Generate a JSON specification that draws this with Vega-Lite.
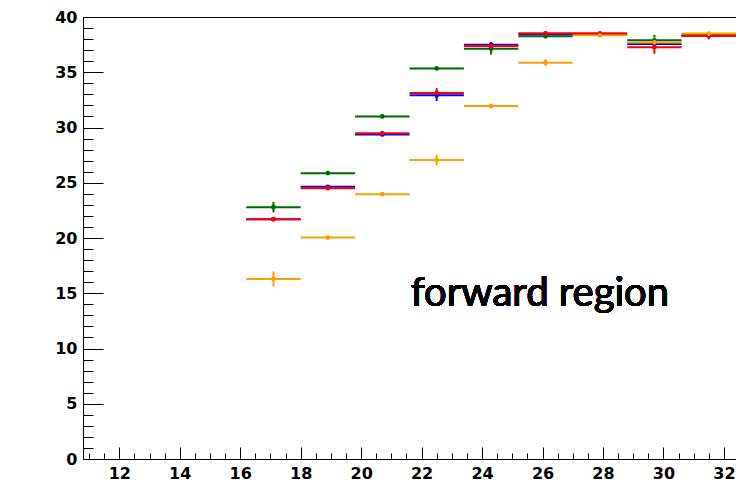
{
  "$schema": "https://vega.github.io/schema/vega-lite/v6.json",
  "width": 653,
  "height": 442,
  "autosize": {"type": "none"},
  "padding": {"left": 83, "top": 17, "right": 0, "bottom": 23},
  "background": "white",
  "config": {
    "view": {"stroke": "black", "strokeWidth": 1},
    "axis": {"grid": false, "domainColor": "black", "tickColor": "black", "labelColor": "black", "labelFont": "DejaVu Sans", "labelFontWeight": "bold", "labelFontSize": 16, "title": null}
  },
  "data": {
    "values": [
      {"s": "blue", "lo": 16.2, "hi": 18.0, "xc": 17.1, "y": 21.7, "ylo": 21.6, "yhi": 21.8},
      {"s": "blue", "lo": 18.0, "hi": 19.8, "xc": 18.9, "y": 24.64, "ylo": 24.5, "yhi": 24.78},
      {"s": "blue", "lo": 19.8, "hi": 21.6, "xc": 20.7, "y": 29.37, "ylo": 29.22, "yhi": 29.52},
      {"s": "blue", "lo": 21.6, "hi": 23.4, "xc": 22.5, "y": 32.91, "ylo": 32.4, "yhi": 33.4},
      {"s": "blue", "lo": 23.4, "hi": 25.2, "xc": 24.3, "y": 37.5, "ylo": 37.3, "yhi": 37.7},
      {"s": "blue", "lo": 25.2, "hi": 27.0, "xc": 26.1, "y": 38.43, "ylo": 38.3, "yhi": 38.56},
      {"s": "blue", "lo": 27.0, "hi": 28.8, "xc": 27.9, "y": 38.45, "ylo": 38.3, "yhi": 38.6},
      {"s": "blue", "lo": 28.8, "hi": 30.6, "xc": 29.7, "y": 37.56, "ylo": 37.3, "yhi": 37.8},
      {"s": "blue", "lo": 30.6, "hi": 32.4, "xc": 31.5, "y": 38.3, "ylo": 38.15, "yhi": 38.45},
      {"s": "green", "lo": 16.2, "hi": 18.0, "xc": 17.1, "y": 22.79, "ylo": 22.31, "yhi": 23.27},
      {"s": "green", "lo": 18.0, "hi": 19.8, "xc": 18.9, "y": 25.87, "ylo": 25.75, "yhi": 25.99},
      {"s": "green", "lo": 19.8, "hi": 21.6, "xc": 20.7, "y": 31.0, "ylo": 30.88, "yhi": 31.12},
      {"s": "green", "lo": 21.6, "hi": 23.4, "xc": 22.5, "y": 35.35, "ylo": 35.23, "yhi": 35.47},
      {"s": "green", "lo": 23.4, "hi": 25.2, "xc": 24.3, "y": 37.13, "ylo": 36.6, "yhi": 37.66},
      {"s": "green", "lo": 25.2, "hi": 27.0, "xc": 26.1, "y": 38.25, "ylo": 38.1, "yhi": 38.4},
      {"s": "green", "lo": 27.0, "hi": 28.8, "xc": 27.9, "y": 38.43, "ylo": 38.3, "yhi": 38.56},
      {"s": "green", "lo": 28.8, "hi": 30.6, "xc": 29.7, "y": 37.89, "ylo": 37.4, "yhi": 38.38},
      {"s": "green", "lo": 30.6, "hi": 32.4, "xc": 31.5, "y": 38.37, "ylo": 38.25, "yhi": 38.49},
      {"s": "red", "lo": 16.2, "hi": 18.0, "xc": 17.1, "y": 21.7, "ylo": 21.58, "yhi": 21.82},
      {"s": "red", "lo": 18.0, "hi": 19.8, "xc": 18.9, "y": 24.51, "ylo": 24.39, "yhi": 24.63},
      {"s": "red", "lo": 19.8, "hi": 21.6, "xc": 20.7, "y": 29.49, "ylo": 29.35, "yhi": 29.63},
      {"s": "red", "lo": 21.6, "hi": 23.4, "xc": 22.5, "y": 33.12, "ylo": 32.67, "yhi": 33.57},
      {"s": "red", "lo": 23.4, "hi": 25.2, "xc": 24.3, "y": 37.37, "ylo": 37.2, "yhi": 37.54},
      {"s": "red", "lo": 25.2, "hi": 27.0, "xc": 26.1, "y": 38.52, "ylo": 38.32, "yhi": 38.72},
      {"s": "red", "lo": 27.0, "hi": 28.8, "xc": 27.9, "y": 38.52, "ylo": 38.38, "yhi": 38.66},
      {"s": "red", "lo": 28.8, "hi": 30.6, "xc": 29.7, "y": 37.26, "ylo": 36.67, "yhi": 37.85},
      {"s": "red", "lo": 30.6, "hi": 32.4, "xc": 31.5, "y": 38.28, "ylo": 37.98, "yhi": 38.58},
      {"s": "orange", "lo": 16.2, "hi": 18.0, "xc": 17.1, "y": 16.3, "ylo": 15.62, "yhi": 16.98},
      {"s": "orange", "lo": 18.0, "hi": 19.8, "xc": 18.9, "y": 20.04, "ylo": 19.92, "yhi": 20.16},
      {"s": "orange", "lo": 19.8, "hi": 21.6, "xc": 20.7, "y": 23.97, "ylo": 23.85, "yhi": 24.09},
      {"s": "orange", "lo": 21.6, "hi": 23.4, "xc": 22.5, "y": 27.05, "ylo": 26.57, "yhi": 27.53},
      {"s": "orange", "lo": 23.4, "hi": 25.2, "xc": 24.3, "y": 31.94, "ylo": 31.72, "yhi": 32.16},
      {"s": "orange", "lo": 25.2, "hi": 27.0, "xc": 26.1, "y": 35.87, "ylo": 35.57, "yhi": 36.17},
      {"s": "orange", "lo": 27.0, "hi": 28.8, "xc": 27.9, "y": 38.34, "ylo": 38.2, "yhi": 38.48},
      {"s": "orange", "lo": 28.8, "hi": 30.6, "xc": 29.7, "y": 37.7, "ylo": 37.2, "yhi": 38.2},
      {"s": "orange", "lo": 30.6, "hi": 32.4, "xc": 31.5, "y": 38.5, "ylo": 38.35, "yhi": 38.65}
    ]
  },
  "resolve": {"axis": {"x": "independent", "y": "independent"}},
  "layer": [
    {
      "mark": {"type": "rule", "strokeWidth": 2, "opacity": 1},
      "encoding": {
        "x": {"field": "lo", "type": "quantitative", "scale": {"domain": [10.8, 32.4], "nice": false, "zero": false},
          "axis": {"orient": "bottom", "values": [12, 14, 16, 18, 20, 22, 24, 26, 28, 30, 32], "tickSize": -12, "labelPadding": 18, "labelFontSize": 16, "domain": true, "labelFlush": false}},
        "x2": {"field": "hi"},
        "y": {"field": "y", "type": "quantitative", "scale": {"domain": [0, 40], "nice": false},
          "axis": {"orient": "left", "values": [0, 5, 10, 15, 20, 25, 30, 35, 40], "tickSize": -20, "labelPadding": 26, "domain": true, "labelFlush": false}},
        "color": {"field": "s", "type": "nominal", "legend": null,
          "scale": {"domain": ["blue", "green", "red", "orange"], "range": ["#0000ff", "#006a00", "#ff0000", "#ffa000"]}},
        "order": {"field": "s"}
      }
    },
    {
      "mark": {"type": "rule", "strokeWidth": 2, "opacity": 1},
      "encoding": {
        "x": {"field": "xc", "type": "quantitative", "axis": null},
        "y": {"field": "ylo", "type": "quantitative", "axis": null},
        "y2": {"field": "yhi"},
        "color": {"field": "s", "type": "nominal", "legend": null}
      }
    },
    {
      "mark": {"type": "circle", "size": 22, "opacity": 1},
      "encoding": {
        "x": {"field": "xc", "type": "quantitative", "axis": null},
        "y": {"field": "y", "type": "quantitative", "axis": null},
        "color": {"field": "s", "type": "nominal", "legend": null}
      }
    },
    {
      "mark": {"type": "rule", "opacity": 0},
      "encoding": {
        "x": {"field": "xc", "type": "quantitative",
          "axis": {"orient": "bottom", "values": [11, 11.5, 12.5, 13, 13.5, 14.5, 15, 15.5, 16.5, 17, 17.5, 18.5, 19, 19.5, 20.5, 21, 21.5, 22.5, 23, 23.5, 24.5, 25, 25.5, 26.5, 27, 27.5, 28.5, 29, 29.5, 30.5, 31, 31.5, 32.5], "tickSize": -6, "labels": false, "domain": false}},
        "y": {"field": "y", "type": "quantitative",
          "axis": {"orient": "left", "values": [1, 2, 3, 4, 6, 7, 8, 9, 11, 12, 13, 14, 16, 17, 18, 19, 21, 22, 23, 24, 26, 27, 28, 29, 31, 32, 33, 34, 36, 37, 38, 39], "tickSize": -10, "labels": false, "domain": false}}
      }
    },
    {
      "mark": {"type": "text", "text": "forward region", "font": "Lato", "fontSize": 40, "fontWeight": "normal", "align": "left", "baseline": "alphabetic", "color": "black"},
      "encoding": {
        "x": {"datum": 21.64, "type": "quantitative", "axis": null},
        "y": {"datum": 13.89, "type": "quantitative", "axis": null}
      }
    }
  ]
}
